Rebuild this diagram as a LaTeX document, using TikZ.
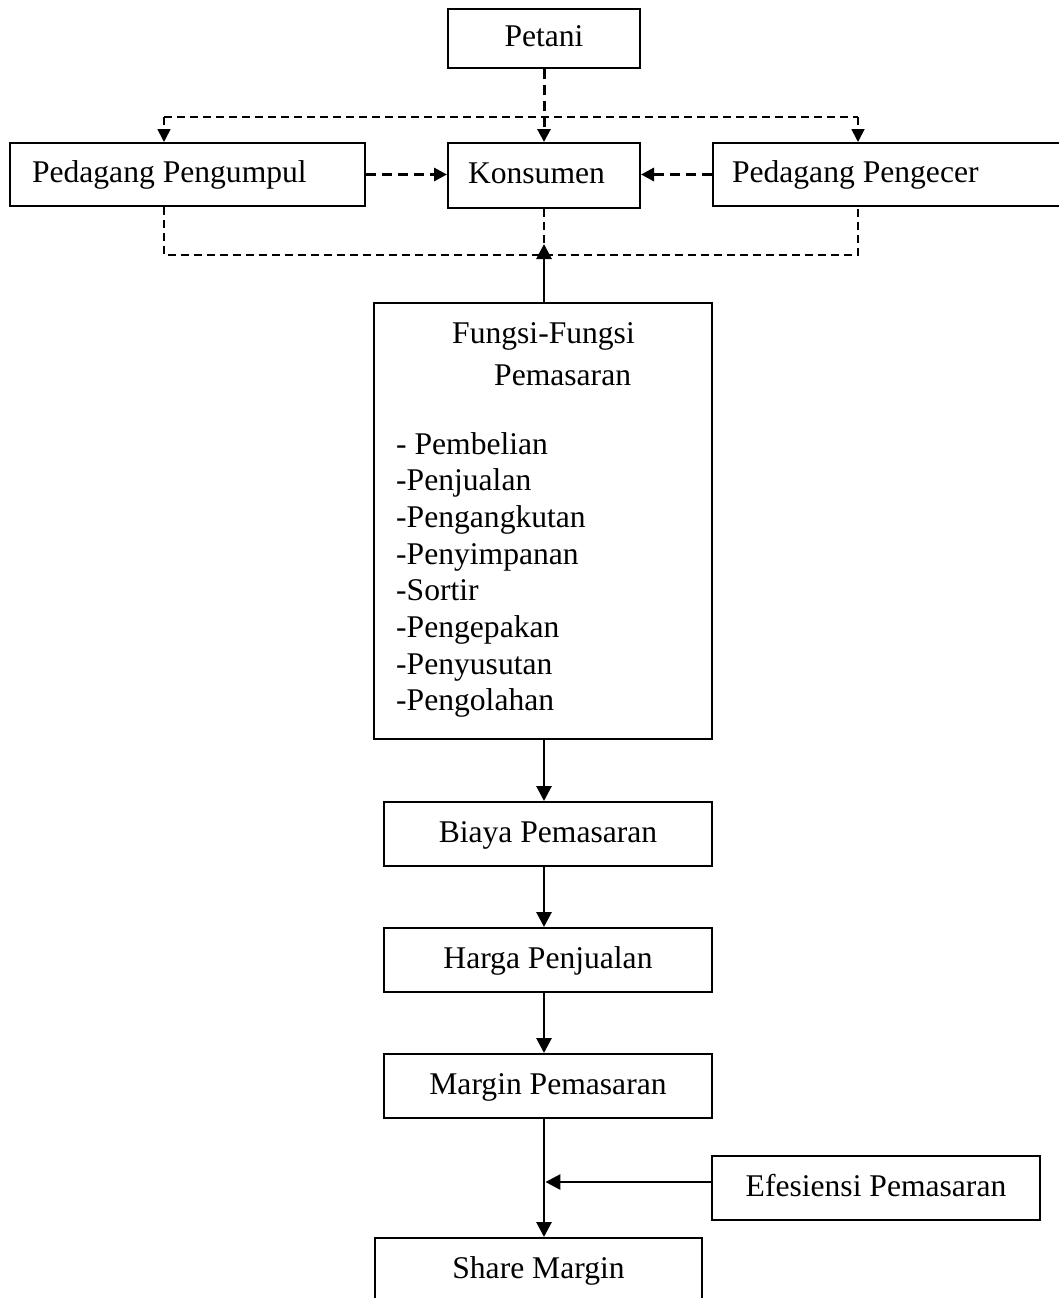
\documentclass[tikz,border=0pt]{standalone}
\usepackage{fontspec}
\setmainfont{Liberation Serif}
\usetikzlibrary{arrows.meta}
\begin{document}
\begin{tikzpicture}[x=1pt,y=-1pt,
  box/.style={draw, line width=2pt, inner sep=0pt, text height=22pt, text depth=6pt,
    font=\fontsize{31.6}{38}\selectfont},
  arr/.style={-{Triangle[length=15pt,width=15pt]}},
  sarr/.style={-{Triangle[length=13pt,width=13pt]}},
  solidline/.style={line width=2.8pt},
  thindash/.style={line width=1.8pt, dash pattern=on 8pt off 5pt},
  thickdash/.style={line width=3pt, dash pattern=on 10pt off 6pt},
  txt/.style={inner sep=0pt, anchor=base west, font=\fontsize{31.6}{38}\selectfont}]

\path[use as bounding box, fill=white] (0,0) rectangle (1059,1298);
\clip (0,0) rectangle (1059,1298);

% boxes
\node[box, minimum width=192pt, minimum height=59pt] (petani) at (544,38.5) {Petani};
\node[box, minimum width=355.5pt, minimum height=63pt] (pengumpul) at (187.25,174.5) {\makebox[310.5pt][l]{Pedagang Pengumpul}};
\node[box, minimum width=192pt, minimum height=65pt] (konsumen) at (544,175.5) {\makebox[152pt][l]{Konsumen}};
\node[box, minimum width=362pt, minimum height=63pt] (pengecer) at (894,174.5) {\makebox[324pt][l]{Pedagang Pengecer}};
\node[draw, line width=2pt, minimum width=338pt, minimum height=436pt, inner sep=0pt] (fungsi) at (543,521) {};
\node[box, minimum width=328pt, minimum height=64pt] (biaya) at (548,834) {Biaya Pemasaran};
\node[box, minimum width=328pt, minimum height=64pt] (harga) at (548,960) {Harga Penjualan};
\node[box, minimum width=328pt, minimum height=64pt] (margin) at (548,1086) {Margin Pemasaran};
\node[box, minimum width=328pt, minimum height=64pt] (eff) at (876,1188) {Efesiensi Pemasaran};
\node[box, minimum width=327pt, minimum height=64pt] (share) at (538.5,1270) {Share Margin};

% text inside Fungsi box
\node[txt] (f1) at (452,343) {Fungsi-Fungsi};
\node[txt] (f2) at (494,385) {Pemasaran};
\foreach \t [count=\i from 0] in {- Pembelian,-Penjualan,-Pengangkutan,-Penyimpanan,-Sortir,-Pengepakan,-Penyusutan,-Pengolahan}
  \node[txt] (item\i) at (396,454+36.7*\i) {\t};

% helper coordinates
\coordinate (tl) at (164,117);
\coordinate (tr) at (858,117);
\coordinate (bl) at (164,255);
\coordinate (br) at (858,255);
\coordinate (tip) at (544,244);
\coordinate (ax) at (544,0);
\coordinate (effin) at ([yshift=6pt]eff.west);

% top distribution
\draw[thindash] (tl) -- (tr);
\draw[thindash, sarr] (tl) -- (tl |- pengumpul.north);
\draw[thindash, sarr] (tr) -- (tr |- pengecer.north);
\draw[thickdash, sarr] (petani.south) -- (konsumen.north);

% side arrows to Konsumen
\draw[thickdash, sarr] (pengumpul.east) -- (konsumen.west |- pengumpul.east);
\draw[thickdash, sarr] (pengecer.west) -- (konsumen.east |- pengecer.west);

% bottom dashed collector
\draw[thindash] (bl |- pengumpul.south) -- (bl) -- (br) -- (br |- pengecer.south);
\draw[thindash] (konsumen.south) -- (tip);

% solid flow
\draw[solidline, arr] (tip |- fungsi.north) -- (tip);
\draw[solidline, arr] (ax |- fungsi.south) -- (ax |- biaya.north);
\draw[solidline, arr] (ax |- biaya.south) -- (ax |- harga.north);
\draw[solidline, arr] (ax |- harga.south) -- (ax |- margin.north);
\draw[solidline, arr] (ax |- margin.south) -- (ax |- share.north);
\draw[solidline, arr] (effin) -- ([xshift=1.4pt]ax |- effin);
\end{tikzpicture}
\end{document}
